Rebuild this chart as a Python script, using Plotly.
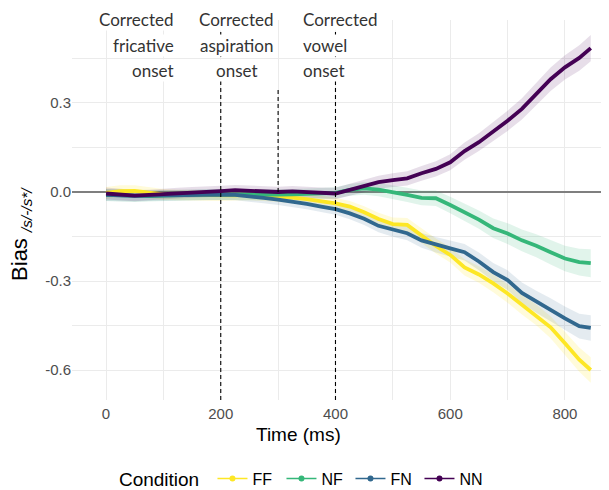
import plotly.graph_objects as go

time_ms = [0, 25, 50, 75, 100, 125, 150, 175, 200, 225, 250, 275, 300, 325, 350, 375, 400,
           425, 450, 475, 500, 525, 550, 575, 600, 625, 650, 675, 700, 725, 750, 775, 800, 825, 845]

bias_FF = [-0.003, 0.003, 0.004, -0.002, -0.008, -0.010, -0.011, -0.012, -0.012, -0.011, -0.010, -0.012,
           -0.015, -0.019, -0.024, -0.030, -0.038, -0.049, -0.068, -0.091, -0.108, -0.111, -0.148, -0.182,
           -0.212, -0.254, -0.278, -0.308, -0.342, -0.380, -0.414, -0.456, -0.510, -0.565, -0.600]
bias_NF = [-0.010, -0.012, -0.015, -0.014, -0.012, -0.010, -0.010, -0.009, -0.008, -0.009, -0.010, -0.010,
           -0.009, -0.008, -0.006, -0.004, -0.003, 0.007, 0.012, 0.008, 0.000, -0.010, -0.020, -0.021,
           -0.044, -0.068, -0.093, -0.122, -0.140, -0.163, -0.181, -0.203, -0.224, -0.236, -0.240]
bias_FN = [-0.010, -0.012, -0.013, -0.012, -0.011, -0.010, -0.009, -0.008, -0.009, -0.010, -0.014, -0.020,
           -0.026, -0.032, -0.040, -0.049, -0.058, -0.072, -0.090, -0.114, -0.128, -0.139, -0.163, -0.178,
           -0.190, -0.203, -0.234, -0.270, -0.297, -0.340, -0.370, -0.397, -0.426, -0.452, -0.458]
bias_NN = [-0.005, -0.008, -0.012, -0.010, -0.008, -0.004, -0.001, 0.000, 0.003, 0.006, 0.004, 0.002,
           0.000, 0.002, -0.001, -0.003, -0.005, 0.007, 0.020, 0.033, 0.040, 0.046, 0.063, 0.078,
           0.100, 0.138, 0.168, 0.203, 0.240, 0.280, 0.330, 0.380, 0.420, 0.452, 0.485]

ci_FF = [0.020, 0.020, 0.019, 0.018, 0.018, 0.018, 0.018, 0.018, 0.018, 0.018, 0.018, 0.018,
         0.018, 0.018, 0.018, 0.018, 0.019, 0.019, 0.020, 0.021, 0.022, 0.023, 0.024, 0.025,
         0.026, 0.027, 0.028, 0.030, 0.031, 0.033, 0.035, 0.037, 0.039, 0.041, 0.043]
ci_NF = [0.020, 0.020, 0.019, 0.018, 0.018, 0.018, 0.018, 0.018, 0.018, 0.018, 0.018, 0.018,
         0.018, 0.018, 0.018, 0.018, 0.019, 0.020, 0.021, 0.022, 0.023, 0.024, 0.025, 0.026,
         0.028, 0.029, 0.031, 0.033, 0.035, 0.037, 0.039, 0.041, 0.043, 0.045, 0.047]
ci_FN = [0.020, 0.020, 0.019, 0.018, 0.018, 0.018, 0.018, 0.018, 0.018, 0.018, 0.018, 0.018,
         0.018, 0.018, 0.018, 0.018, 0.019, 0.020, 0.021, 0.022, 0.023, 0.024, 0.025, 0.026,
         0.027, 0.028, 0.030, 0.031, 0.033, 0.035, 0.037, 0.039, 0.040, 0.042, 0.043]
ci_NN = [0.020, 0.020, 0.019, 0.018, 0.018, 0.018, 0.018, 0.018, 0.018, 0.018, 0.018, 0.018,
         0.018, 0.018, 0.018, 0.018, 0.019, 0.020, 0.021, 0.022, 0.023, 0.024, 0.025, 0.026,
         0.027, 0.029, 0.030, 0.032, 0.034, 0.036, 0.038, 0.040, 0.041, 0.043, 0.044]

conditions = ["FF", "NF", "FN", "NN"]
series = {"FF": (bias_FF, ci_FF), "NF": (bias_NF, ci_NF), "FN": (bias_FN, ci_FN), "NN": (bias_NN, ci_NN)}
colors = {"FF": "#FDE725", "NF": "#35B779", "FN": "#31688E", "NN": "#440154"}
fills = {"FF": "rgba(253,231,37,0.17)", "NF": "rgba(53,183,121,0.15)",
         "FN": "rgba(49,104,142,0.13)", "NN": "rgba(68,1,84,0.13)"}

x_ticks = [0, 200, 400, 600, 800]
y_ticks = [0.3, 0.0, -0.3, -0.6]
y_tick_labels = ["0.3", "0.0", "-0.3", "-0.6"]

onset_times = [200, 400]
aspiration_time = 300
label_rows = {
    "fricative": ["Corrected", "fricative", "onset"],
    "aspiration": ["Corrected", "aspiration", "onset"],
    "vowel": ["Corrected", "vowel", "onset"],
}

fig = go.Figure()

# ribbons
for c in conditions:
    vals, ci = series[c]
    upper = [v + e for v, e in zip(vals, ci)]
    lower = [v - e for v, e in zip(vals, ci)]
    fig.add_trace(go.Scatter(x=time_ms, y=upper, mode="lines", line=dict(width=0),
                             showlegend=False, hoverinfo="skip"))
    fig.add_trace(go.Scatter(x=time_ms, y=lower, mode="lines", line=dict(width=0),
                             fill="tonexty", fillcolor=fills[c], showlegend=False, hoverinfo="skip"))

# lines
for c in conditions:
    vals, ci = series[c]
    fig.add_trace(go.Scatter(x=time_ms, y=vals, mode="lines", line=dict(color=colors[c], width=3.8),
                             showlegend=False, name=c))

# legend entries
for c in conditions:
    fig.add_trace(go.Scatter(x=[None], y=[None], mode="lines+markers", name=c,
                             line=dict(color=colors[c], width=1.5),
                             marker=dict(color=colors[c], size=6)))

grid = "#EBEBEB"
tick_font = dict(family="Liberation Sans, Arial, sans-serif", size=15, color="#4D4D4D")

# the page body adds an 8px margin, so the figure is 8px smaller than the window
fig.update_layout(
    width=601, height=482,
    margin=dict(l=64, r=0, t=12, b=90, autoexpand=False),
    paper_bgcolor="white", plot_bgcolor="white",
    font=dict(family="Liberation Sans, Arial, sans-serif"),
    xaxis=dict(range=[-59.3, 876.8], tickvals=x_ticks, showgrid=True, gridcolor=grid, gridwidth=1.1,
               zeroline=False, showline=False, ticks="", tickfont=tick_font, ticklabelstandoff=3,
               minor=dict(tickvals=[100, 300, 500, 700], showgrid=True, gridcolor=grid, gridwidth=0.6)),
    yaxis=dict(range=[-0.701, 0.5797], tickvals=y_ticks, ticktext=y_tick_labels, showgrid=True,
               gridcolor=grid, gridwidth=1.1, zeroline=True, zerolinecolor="#7F7F7F", zerolinewidth=2,
               showline=False, ticks="", tickfont=tick_font,
               minor=dict(tickvals=[0.45, 0.15, -0.15, -0.45], showgrid=True, gridcolor=grid, gridwidth=0.6)),
    legend=dict(orientation="h", x=0.43, xanchor="center", y=-0.208, yanchor="middle",
                traceorder="normal",
                title=dict(text="Condition ", font=dict(size=19, color="black"), side="left"),
                font=dict(size=16, color="black"), itemwidth=30, entrywidth=24,
                entrywidthmode="pixels", bgcolor="rgba(0,0,0,0)"),
)

for t in onset_times:
    fig.add_shape(type="line", x0=t, x1=t, y0=0, y1=1, xref="x", yref="paper",
                  line=dict(color="black", width=1.1, dash="4px,3px"), layer="above")
fig.add_shape(type="line", x0=aspiration_time, x1=aspiration_time, y0=0, y1=0.35, xref="x", yref="y",
              line=dict(color="black", width=1.1, dash="4px,3px"), layer="above")

row_y = [1.002, 0.934, 0.866]
label_font = dict(family="Lato, Open Sans, sans-serif", size=17, color="#333333")
placements = [("fricative", 120, "right"), ("aspiration", 228, "center"), ("vowel", 342, "left")]
for key, xpos, anchor in placements:
    for txt, yv in zip(label_rows[key], row_y):
        fig.add_annotation(x=xpos, y=yv, xref="x", yref="paper", text=txt, showarrow=False,
                           xanchor=anchor, yanchor="middle", font=label_font,
                           bgcolor="white", borderpad=0)

fig.add_annotation(x=-0.095, y=0.437, xref="paper", yref="paper", textangle=-90,
                   text="Bias <sub><i>/s/-/s*/</i></sub>", showarrow=False,
                   xanchor="center", yanchor="middle",
                   font=dict(size=22, color="black", family="Liberation Sans, Arial, sans-serif"))

fig.add_annotation(x=0.4227, y=-0.0895, xref="paper", yref="paper", text="Time (ms)",
                   showarrow=False, xanchor="center", yanchor="middle",
                   font=dict(size=19, color="black", family="Liberation Sans, Arial, sans-serif"))

fig.write_html("out.html")
